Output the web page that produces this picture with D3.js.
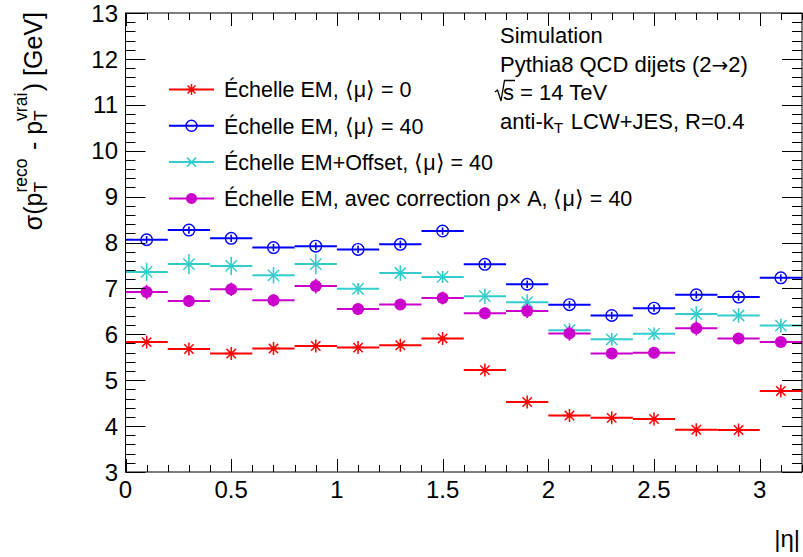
<!DOCTYPE html>
<html><head><meta charset="utf-8">
<script src="https://cdn.jsdelivr.net/npm/d3@7"></script>
<style>
html,body{margin:0;padding:0;background:#fff;}
svg text{font-family:"Liberation Sans",Arial,Helvetica,sans-serif;fill:#000;}
</style></head>
<body><svg id="c" width="803" height="557"></svg>
<script>
// ---- data ----
const etaCenters = [0.1,0.3,0.5,0.7,0.9,1.1,1.3,1.5,1.7,1.9,2.1,2.3,2.5,2.7,2.9,3.1];
const binHalfWidth = 0.1;
const sigmaMu0   = [5.83,5.68,5.58,5.69,5.745,5.71,5.76,5.91,5.22,4.525,4.23,4.18,4.155,3.92,3.915,4.765];
const errMu0     = [0.04,0.04,0.04,0.04,0.04,0.04,0.04,0.04,0.04,0.04,0.04,0.04,0.04,0.04,0.04,0.04];
const sigmaMu40  = [8.06,8.27,8.09,7.89,7.92,7.85,7.96,8.25,7.525,7.09,6.645,6.41,6.57,6.86,6.81,7.23];
const errMu40    = [0.08,0.08,0.08,0.08,0.08,0.08,0.08,0.08,0.08,0.08,0.08,0.08,0.08,0.08,0.08,0.08];
const sigmaOffset= [7.36,7.53,7.49,7.285,7.53,6.99,7.335,7.25,6.83,6.70,6.09,5.89,6.01,6.44,6.41,6.19];
const errOffset  = [0.2,0.22,0.2,0.18,0.22,0.13,0.17,0.13,0.17,0.17,0.15,0.14,0.14,0.17,0.16,0.15];
const sigmaRhoA  = [6.92,6.725,6.98,6.74,7.05,6.55,6.65,6.79,6.46,6.51,6.02,5.58,5.60,6.13,5.91,5.83];
const errRhoA    = [0.16,0.13,0.145,0.14,0.16,0.13,0.12,0.14,0.13,0.155,0.16,0.12,0.12,0.155,0.12,0.11];
const xTickValues = [0,0.5,1,1.5,2,2.5,3];
const xTickLabels = ["0","0.5","1","1.5","2","2.5","3"];
const yTickValues = [3,4,5,6,7,8,9,10,11,12,13];
const yTickLabels = ["3","4","5","6","7","8","9","10","11","12","13"];
const legendLabels = [
  "Échelle EM, ⟨μ⟩ = 0",
  "Échelle EM, ⟨μ⟩ = 40",
  "Échelle EM+Offset, ⟨μ⟩ = 40",
  "Échelle EM, avec correction ρ× A, ⟨μ⟩ = 40"
];

// ---- layout ----
const W = 803, H = 557;
const L = 125.5, R = 802, T = 13, B = 472;
const svg = d3.select("#c");
const x = d3.scaleLinear().domain([0,3.2]).range([L,R]);
const y = d3.scaleLinear().domain([3,13]).range([B,T]);

const series = [
  {vals:sigmaMu0, errs:errMu0, color:"#ff0000", marker:"star", size:6.5},
  {vals:sigmaMu40, errs:errMu40, color:"#0000ff", marker:"open", size:5.8},
  {vals:sigmaOffset, errs:errOffset, color:"#33cccc", marker:"cross", size:7.5},
  {vals:sigmaRhoA, errs:errRhoA, color:"#cc00cc", marker:"dot", size:6}
];

function drawMarker(g, cx, cy, s, color) {
  const r = s.size;
  if (s.marker === "star") {
    const d = r*0.72;
    g.append("path").attr("d",
      `M${cx-r},${cy}L${cx+r},${cy}M${cx},${cy-r}L${cx},${cy+r}M${cx-d},${cy-d}L${cx+d},${cy+d}M${cx-d},${cy+d}L${cx+d},${cy-d}`)
      .attr("stroke",color).attr("stroke-width",1.5).attr("fill","none");
  } else if (s.marker === "cross") {
    const d = r*0.75;
    g.append("path").attr("d",
      `M${cx-d},${cy-d}L${cx+d},${cy+d}M${cx-d},${cy+d}L${cx+d},${cy-d}`)
      .attr("stroke",color).attr("stroke-width",1.5).attr("fill","none");
  } else if (s.marker === "open") {
    g.append("circle").attr("cx",cx).attr("cy",cy).attr("r",r)
      .attr("fill","none").attr("stroke",color).attr("stroke-width",1.4);
  } else if (s.marker === "dot") {
    g.append("circle").attr("cx",cx).attr("cy",cy).attr("r",r).attr("fill",color);
  }
}

// ---- series ----
const plot = svg.append("g");
series.forEach(s => {
  const g = plot.append("g");
  etaCenters.forEach((c,i) => {
    const cy = y(s.vals[i]);
    g.append("line").attr("x1",x(c-binHalfWidth)).attr("x2",x(c+binHalfWidth))
      .attr("y1",cy).attr("y2",cy).attr("stroke",s.color).attr("stroke-width",2);
    g.append("line").attr("x1",x(c)).attr("x2",x(c))
      .attr("y1",y(s.vals[i]-s.errs[i])).attr("y2",y(s.vals[i]+s.errs[i]))
      .attr("stroke",s.color).attr("stroke-width",1.6);
    drawMarker(g, x(c), cy, s, s.color);
  });
});

// ---- frame & ticks ----
const ax = svg.append("g").attr("stroke","#000").attr("stroke-width",1).attr("fill","none");
ax.append("rect").attr("x",L).attr("y",T).attr("width",R-L).attr("height",B-T);
const xMinor = d3.range(0,33).map(i=>i/10);
xMinor.forEach(v => {
  const major = Math.abs(v*2 - Math.round(v*2)) < 1e-6;
  const len = major ? 13 : 7;
  const px = Math.round(x(v))+0.5;
  ax.append("line").attr("x1",px).attr("x2",px).attr("y1",B).attr("y2",B-len);
  ax.append("line").attr("x1",px).attr("x2",px).attr("y1",T).attr("y2",T+len);
});
const yMinor = d3.range(0,51).map(i=>3+i*0.2);
yMinor.forEach(v => {
  const major = Math.abs(v - Math.round(v)) < 1e-6;
  const len = major ? 20 : 10;
  const py = Math.round(y(v))+0.5;
  ax.append("line").attr("x1",L).attr("x2",L+len).attr("y1",py).attr("y2",py);
  ax.append("line").attr("x1",R).attr("x2",R-len).attr("y1",py).attr("y2",py);
});

// ---- tick labels ----
xTickValues.forEach((v,i) => {
  svg.append("text").attr("x",x(v)).attr("y",498).attr("text-anchor","middle")
    .style("font-size","24px").text(xTickLabels[i]);
});
yTickValues.forEach((v,i) => {
  svg.append("text").attr("x",118).attr("y",y(v)+8.6).attr("text-anchor","end")
    .style("font-size","24px").text(yTickLabels[i]);
});

// ---- rich text helper ----
function rich(g, parts, size) {
  let cx = 0;
  parts.forEach(p => {
    if (p.sub !== undefined || p.sup !== undefined) {
      let w = 0;
      const fs = size*0.7;
      if (p.sup !== undefined) {
        const t = g.append("text").attr("x",cx).attr("y",-size*0.6).style("font-size",fs+"px").text(p.sup);
        w = Math.max(w, t.node().getComputedTextLength());
      }
      if (p.sub !== undefined) {
        const t = g.append("text").attr("x",cx).attr("y",size*0.22).style("font-size",fs+"px").text(p.sub);
        w = Math.max(w, t.node().getComputedTextLength());
      }
      cx += w + 1.5;
    } else {
      const t = g.append("text").attr("x",cx).attr("y",0).style("font-size",size+"px")
        .style("white-space","pre").text(p.t);
      cx += t.node().getComputedTextLength();
    }
  });
  return cx;
}

// y title
{
  const g = svg.append("g");
  const inner = g.append("g");
  const w = rich(inner, [{t:"σ(p"},{sub:"T",sup:"reco"},{t:" - p"},{sub:"T",sup:"vrai"},{t:") [GeV]"}], 25);
  inner.attr("transform",`translate(${-w},0)`);
  g.attr("transform","translate(41.5,12) rotate(-90)");
}
// x title
svg.append("text").attr("x",800).attr("y",546.5).attr("text-anchor","end").style("font-size","24px").text("|η|");

// ---- info text ----
const info = svg.append("g");
info.append("text").attr("x",500).attr("y",43).style("font-size","22px").text("Simulation");
{
  const t = info.append("text").attr("x",500).attr("y",71.5).style("font-size","22px").style("white-space","pre");
  t.append("tspan").text("Pythia8 QCD dijets (2");
  t.append("tspan").style("font-family","'DejaVu Sans'").style("font-size","20px").text("→");
  t.append("tspan").text("2)");
}
{
  const g = info.append("g").attr("transform","translate(496,100)");
  const s = g.append("text").attr("x",7).attr("y",0).style("font-size","22px").text("s");
  const sw = s.node().getComputedTextLength();
  g.append("path").attr("d",`M-1,-8L1.5,-10L5,1L8.5,-19.5L${7+sw+1},-19.5`)
    .attr("fill","none").attr("stroke","#000").attr("stroke-width",1.3);
  g.append("text").attr("x",7+sw).attr("y",0).style("font-size","22px")
    .style("white-space","pre").text(" = 14 TeV");
}
{
  const g = info.append("g").attr("transform","translate(500,128.5)");
  rich(g, [{t:"anti-k"},{sub:"T"},{t:" LCW+JES, R=0.4"}], 22);
}

// ---- legend ----
const legY = [89.5,125.8,162.1,198.4];
series.forEach((s,i) => {
  const g = svg.append("g");
  g.append("line").attr("x1",169).attr("x2",214).attr("y1",legY[i]).attr("y2",legY[i])
    .attr("stroke",s.color).attr("stroke-width",2);
  const ls = Object.assign({}, s, {size: s.marker==="cross"?6: 5.5});
  drawMarker(g, 191.5, legY[i], ls, s.color);
  g.append("text").attr("x",224).attr("y",legY[i]+7.8).style("font-size","21.5px").text(legendLabels[i]);
});
</script></body></html>
